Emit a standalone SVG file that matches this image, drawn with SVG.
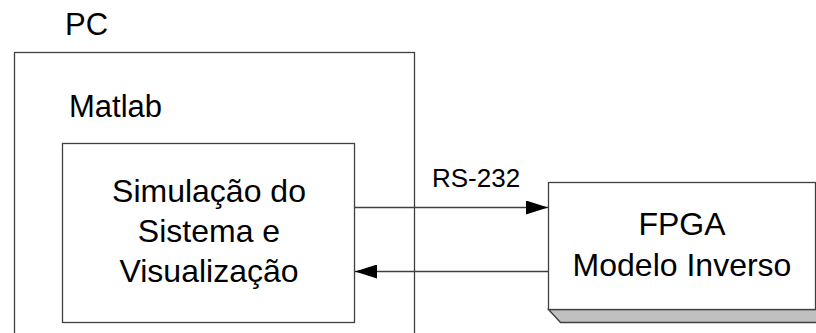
<svg xmlns="http://www.w3.org/2000/svg" width="816" height="333" viewBox="0 0 816 333">
<style>
.box{fill:#fff;stroke:#404040;stroke-width:1.3}
.t{font-family:"Liberation Sans",Arial,sans-serif;font-size:32px;fill:#000}
.c{text-anchor:middle}
.ln{stroke:#404040;stroke-width:1.3;fill:none}
</style>
<defs>
<marker id="ah" viewBox="0 0 22 14" refX="22" refY="7" markerWidth="22" markerHeight="14" markerUnits="userSpaceOnUse" orient="auto">
<path d="M0,0 L22,7 L0,14 Z" fill="#000"/>
</marker>
</defs>
<g id="pc">
<rect class="box" x="14.5" y="52.5" width="400" height="300"/>
<text class="t" x="65" y="35" style="font-size:31px">PC</text>
</g>
<g id="matlab">
<text class="t" x="69" y="117" style="font-size:31px">Matlab</text>
</g>
<g id="sim">
<rect class="box" x="62.5" y="143.5" width="292" height="179"/>
<text class="t c" x="209" y="202">Simulação do</text>
<text class="t c" x="209" y="242">Sistema e</text>
<text class="t c" x="209" y="282">Visualização</text>
</g>
<g id="fpga">
<polygon points="548.5,309.5 560.5,322.5 830,322.5 818,309.5" fill="#c0c0c0" stroke="#404040" stroke-width="1.3"/>
<rect class="box" x="548.5" y="182.5" width="267" height="127"/>
<text class="t c" x="682" y="235">FPGA</text>
<text class="t c" x="682" y="276">Modelo Inverso</text>
</g>
<g id="connectors">
<line class="ln" x1="354.5" y1="207.5" x2="548" y2="207.5" marker-end="url(#ah)"/>
<line class="ln" x1="548" y1="271.5" x2="355" y2="271.5" marker-end="url(#ah)"/>
<text class="t" x="432" y="187" style="font-size:26px">RS-232</text>
</g>
</svg>
